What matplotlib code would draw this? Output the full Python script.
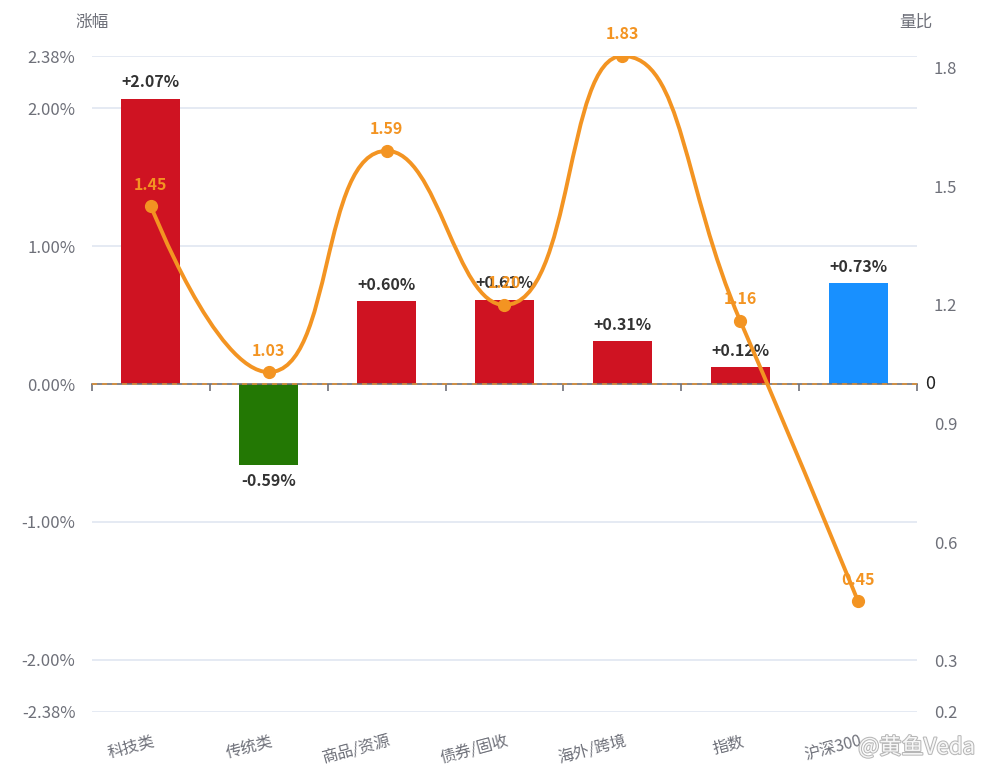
import numpy as np
import matplotlib
matplotlib.use("Agg")
import matplotlib.pyplot as plt
from matplotlib.path import Path
from matplotlib.patches import PathPatch
import matplotlib.patheffects as pe

plt.rcParams['font.family'] = ['Noto Sans CJK SC', 'DejaVu Sans']

categories = ['科技类', '传统类', '商品/资源', '债券/固收', '海外/跨境', '指数', '沪深300']
changes = [2.07, -0.59, 0.60, 0.61, 0.31, 0.12, 0.73]
bar_colors = ['#CF1322', '#237804', '#CF1322', '#CF1322', '#CF1322', '#CF1322', '#1890FF']
ratios = [1.45, 1.03, 1.59, 1.20, 1.83, 1.16, 0.45]

left_ticks = [2.38, 2.00, 1.00, 0.00, -1.00, -2.00, -2.38]
left_labels = ['2.38%', '2.00%', '1.00%', '0.00%', '-1.00%', '-2.00%', '-2.38%']
right_ticks = [1.8, 1.5, 1.2, 0.9, 0.6, 0.3, 0.17]
right_labels = ['1.8', '1.5', '1.2', '0.9', '0.6', '0.3', '0.2']

W, H = 986, 773
fig = plt.figure(figsize=(W / 100, H / 100), dpi=100)
L, R, T, B = 92, 917, 56, 712
ax = fig.add_axes([L / W, (H - B) / H, (R - L) / W, (B - T) / H])
ax2 = ax.twinx()
ax2.set_position(ax.get_position())

gray = '#6E7079'
orange = '#F39422'
n = len(categories)
x = np.arange(n)

ax.set_xlim(-0.5, n - 0.5)
ax.set_ylim(-2.38, 2.38)
ax2.set_ylim(0.17, 1.83)

for a in (ax, ax2):
    for s in a.spines.values():
        s.set_visible(False)

# grid
for t in left_ticks:
    if t != 0:
        ax.axhline(t, color='#E0E6F1', lw=1.2, zorder=0)

ax.set_yticks(left_ticks)
ax.set_yticklabels(left_labels)
ax.tick_params(axis='y', length=0, pad=12, labelsize=12, labelcolor=gray)
ax2.set_yticks(right_ticks)
ax2.set_yticklabels(right_labels)
ax2.tick_params(axis='y', length=0, pad=12, labelsize=12, labelcolor=gray)

# x axis at zero
ax.spines['bottom'].set_visible(True)
ax.spines['bottom'].set_position(('data', 0))
ax.spines['bottom'].set_color(gray)
ax.spines['bottom'].set_linewidth(1.2)
ax.set_xticks(np.arange(-0.5, n, 1.0))
ax.set_xticklabels([])
ax.tick_params(axis='x', length=5, width=1.2, color=gray, direction='out')
ax.axhline(0, color=orange, lw=1.2, ls=(0, (3, 3)), zorder=3, alpha=0.8)

# bars
bars = ax.bar(x, changes, width=0.5, color=bar_colors, zorder=2)
for xi, v in zip(x, changes):
    txt = f'+{v:.2f}%' if v >= 0 else f'{v:.2f}%'
    off = 12 if v >= 0 else -11
    ax.annotate(txt, (xi, v), xytext=(0, off), textcoords='offset points',
                ha='center', va='center', fontsize=11.5, fontweight='bold',
                color='#333333', zorder=6)

# category labels
for xi, c in zip(x, categories):
    ax.annotate(c, (xi, 0), xycoords=('data', 'axes fraction'),
                xytext=(1, -15), textcoords='offset points',
                ha='right', va='top', rotation=15, rotation_mode='anchor',
                fontsize=11.5, color=gray)

# smooth line (ECharts-style bezier smoothing in pixel space)
fig.canvas.draw()
pts = ax2.transData.transform(np.column_stack([x, ratios]))
smooth = 0.5
verts = [tuple(pts[0])]
codes = [Path.MOVETO]
cp0 = pts[0].copy()
for i in range(1, len(pts)):
    px, py = pts[i - 1]
    cx, cy = pts[i]
    if i == len(pts) - 1:
        cp1 = np.array([cx, cy])
        ncp0 = None
    else:
        nx, ny = pts[i + 1]
        vx, vy = nx - px, ny - py
        lp = np.hypot(cx - px, cy - py)
        ln = np.hypot(nx - cx, ny - cy)
        r = ln / (ln + lp)
        ncx = cx + vx * smooth * r
        ncy = cy + vy * smooth * r
        ncx = min(ncx, max(nx, cx)); ncy = min(ncy, max(ny, cy))
        ncx = max(ncx, min(nx, cx)); ncy = max(ncy, min(ny, cy))
        vx, vy = ncx - cx, ncy - cy
        c1x = cx - vx * lp / ln
        c1y = cy - vy * lp / ln
        c1x = min(c1x, max(px, cx)); c1y = min(c1y, max(py, cy))
        c1x = max(c1x, min(px, cx)); c1y = max(c1y, min(py, cy))
        vx, vy = cx - c1x, cy - c1y
        ncp0 = np.array([cx + vx * ln / lp, cy + vy * ln / lp])
        cp1 = np.array([c1x, c1y])
    verts += [tuple(cp0), tuple(cp1), (cx, cy)]
    codes += [Path.CURVE4] * 3
    cp0 = ncp0
inv = ax2.transData.inverted()
dverts = inv.transform(np.array(verts))
path = Path(dverts, codes)
ax2.add_patch(PathPatch(path, facecolor='none', edgecolor=orange, lw=2.8,
                        zorder=4, capstyle='round', joinstyle='round'))
ax2.plot(x, ratios, 'o', color=orange, ms=8.5, zorder=5)
for xi, v in zip(x, ratios):
    ax2.annotate(f'{v:.2f}', (xi, v), xytext=(0, 15.5), textcoords='offset points',
                 ha='center', va='center', fontsize=11.5, fontweight='bold',
                 color=orange, zorder=6)

# right "0" label at zero line
fig.text((R + 8) / W, 1 - 384 / H, '0', ha='left', va='center', fontsize=13,
         color='#222222')

# axis names
fig.text(92 / W, 1 - 22 / H, '涨幅', ha='center', va='center', fontsize=12, color=gray)
fig.text(916 / W, 1 - 22 / H, '量比', ha='center', va='center', fontsize=12, color=gray)

# watermark
fig.text(975 / W, 1 - 747 / H, '@黄鱼Veda', ha='right', va='center', fontsize=16,
         color='white', alpha=0.9,
         path_effects=[pe.withStroke(linewidth=1.5, foreground='#B0B0B0')])

fig.savefig('out.png', dpi=100)
